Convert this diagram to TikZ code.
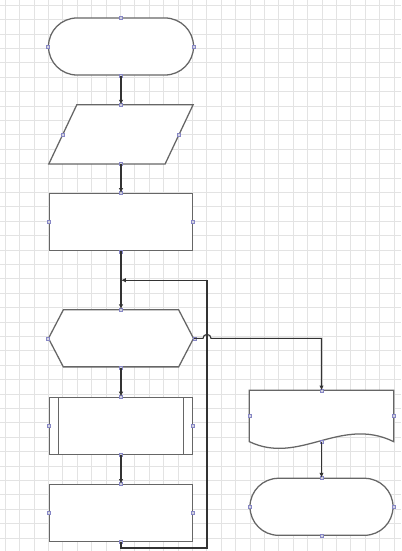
\documentclass[tikz,border=0pt]{standalone}
\usepackage{tikz}
\usetikzlibrary{shapes,arrows.meta,positioning,calc}

\begin{document}
\begin{tikzpicture}[x=0.025cm, y=-0.025cm, node distance=0.725cm,
    every node/.style={draw=black!60, line width=0.9pt, fill=white, inner sep=0pt},
    term/.style={rounded rectangle, minimum width=3.625cm, minimum height=1.425cm},
    proc/.style={rectangle, minimum width=3.575cm, minimum height=1.425cm},
    subproc/.style={proc, path picture={
        \draw[black!60, line width=0.9pt]
            ([xshift=0.225cm]path picture bounding box.north west) -- ([xshift=0.225cm]path picture bounding box.south west)
            ([xshift=-0.225cm]path picture bounding box.north east) -- ([xshift=-0.225cm]path picture bounding box.south east);}},
    choice/.style={signal, signal to=west and east, signal pointer angle=125,
        minimum width=3.625cm, minimum height=1.425cm},
    outline/.style={draw=black!60, line width=0.9pt, fill=white},
    flow/.style={draw=black!80, line width=0.8pt, -{Latex[length=1.2mm,width=1.1mm]}},
    gridline/.style={draw=black!11, line width=0.4pt},
    cpt/.style={draw=blue!35!gray!70, fill=blue!15!gray!30, line width=0.3pt}]

\useasboundingbox (0,0) rectangle (401,551);
\fill[white] (0,0) rectangle (401,551);
% paper grid
\foreach \i in {0,...,27}
    \draw[gridline] (5+14.4*\i,0) -- ++(0,551);
\foreach \j in {0,...,37}
    \draw[gridline] (0,5+14.4*\j) -- ++(401,0);

% main column
\node[term] (start) at (121,46.5) {};
\node[proc, draw=none, fill=none, minimum height=1.45cm, below=of start] (input) {};
\draw[outline] (input.south west) -- ([xshift=-0.7cm]input.south east) -- (input.north east)
    -- ([xshift=0.7cm]input.north west) -- cycle;
\coordinate (inputW) at ([xshift=0.35cm]input.west);
\coordinate (inputE) at ([xshift=-0.35cm]input.east);
\node[proc, below=of input] (proc1) {};
\node[choice, below=1.45cm of proc1] (hex) {};
\node[subproc, below=of hex] (pre) {};
\node[proc, below=of pre] (proc2) {};

% side column
\node[proc, draw=none, fill=none, minimum height=1.25cm] (doc) at (321.5,416) {};
\draw[outline] (doc.south west) |- (doc.north east) -- (doc.south east)
    .. controls +(-53,-26) and +(50,24) .. (doc.south west) -- cycle;
\node[term, minimum width=3.575cm, below=0.9cm of doc] (stop) {};

% connection points
\foreach \n in {start,proc1,hex,pre,proc2,doc,stop}
    \foreach \a in {north,south,east,west}
        \draw[cpt] (\n.\a) ++(-1.5,-1.5) rectangle ++(3,3);
\foreach \p in {input.north, input.south, inputW, inputE}
    \draw[cpt] (\p) ++(-1.5,-1.5) rectangle ++(3,3);

\coordinate (merge) at ($(proc1.south)!0.5!(hex.north)$);
\coordinate (back) at (207,548);

\draw[flow] (start) -- (input);
\draw[flow] (input) -- (proc1);
\draw[flow] (proc1) -- (hex);
\draw[flow] (hex) -- (pre);
\draw[flow] (pre) -- (proc2);
\draw[flow] (proc2.south) |- (back) |- (merge);
\draw[flow] (hex.east) -- ([xshift=-0.1cm]back |- hex.east)
    arc[start angle=180, end angle=0, radius=0.1cm] -| (doc.north);
\draw[flow] (doc.south) -- (stop);
\end{tikzpicture}
\end{document}
